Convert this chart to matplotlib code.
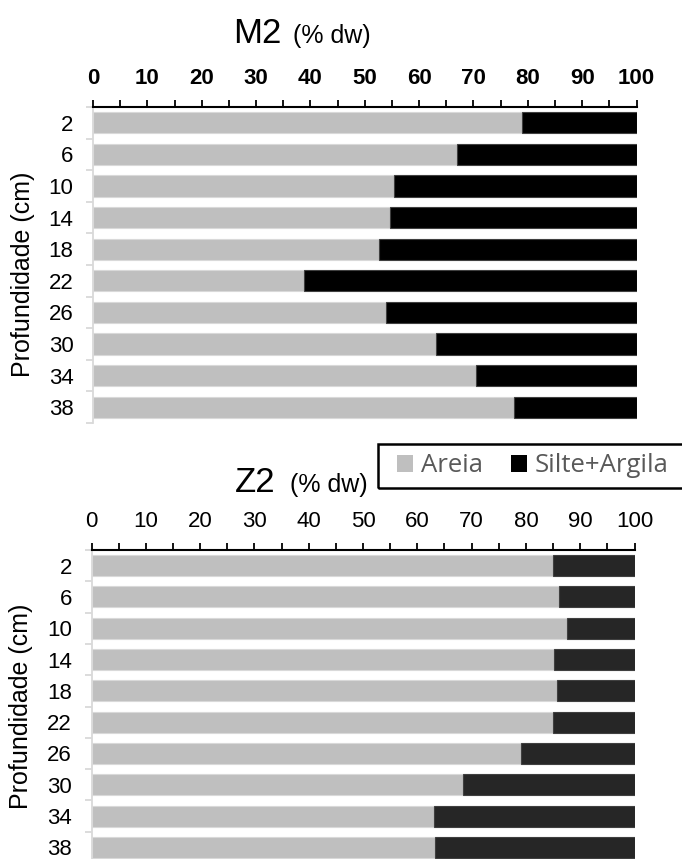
import matplotlib
matplotlib.use("Agg")
import matplotlib.pyplot as plt
from matplotlib.patches import Patch, Rectangle
import numpy as np

plt.rcParams['font.family'] = ['Liberation Sans', 'DejaVu Sans']

depths = ["2", "6", "10", "14", "18", "22", "26", "30", "34", "38"]
m2_areia = [79.0, 66.9, 55.4, 54.7, 52.6, 38.9, 54.0, 63.2, 70.4, 77.5]
z2_areia = [84.9, 86.1, 87.5, 85.1, 85.8, 84.9, 79.1, 68.4, 63.1, 63.3]
m2_silte = [100 - v for v in m2_areia]
z2_silte = [100 - v for v in z2_areia]

W, H = 682, 859
fig = plt.figure(figsize=(W / 100, H / 100), dpi=100)


def px_axes(left, top, right, bottom):
    return fig.add_axes([left / W, 1 - bottom / H, (right - left) / W, (bottom - top) / H])


def draw_panel(ax, areia, silte, dark, bold, label_y):
    y = np.arange(len(depths))
    ax.barh(y, areia, height=0.67, color="#BFBFBF", edgecolor="#D9D9D9", linewidth=0.8)
    ax.barh(y, silte, left=areia, height=0.67, color=dark, edgecolor="#404040", linewidth=0.8)
    ax.set_xlim(0, 100)
    ax.set_ylim(len(depths) - 0.5, -0.5)
    ax.xaxis.tick_top()
    ax.set_xticks(np.arange(0, 101, 10))
    ax.set_xticks(np.arange(0, 101, 5), minor=True)
    ax.tick_params(axis="x", which="both", direction="out", length=5, width=1.3,
                   color="black", pad=8, labelsize=16)
    for t in ax.get_xticklabels():
        t.set_fontweight("bold" if bold else "normal")
    ax.set_yticks(y)
    ax.set_yticklabels(depths)
    ax.set_yticks(np.arange(-0.5, len(depths), 1), minor=True)
    ax.tick_params(axis="y", which="major", length=0, pad=14, labelsize=16)
    ax.tick_params(axis="y", which="minor", length=5, width=1.3, color="#D9D9D9")
    for s in ["right", "bottom"]:
        ax.spines[s].set_visible(False)
    ax.spines["top"].set_linewidth(1.5)
    ax.spines["left"].set_color("#D9D9D9")
    ax.spines["left"].set_linewidth(1.3)
    ax.set_ylabel("Profundidade (cm)", fontsize=18)
    ax.yaxis.set_label_coords(-0.107, label_y)


ax1 = px_axes(93, 107, 636.5, 423)
draw_panel(ax1, m2_areia, m2_silte, "#000000", True, 0.47)

ax2 = px_axes(91.5, 550, 634.5, 863)
draw_panel(ax2, z2_areia, z2_silte, "#262626", False, 0.5)

fig.text(233 / W, 1 - 43 / H, "M2", fontsize=25, va="baseline", ha="left")
fig.text(293 / W, 1 - 43 / H, "(% dw)", fontsize=18, va="baseline", ha="left")
fig.text(235 / W, 1 - 492 / H, "Z2", fontsize=25, va="baseline", ha="left")
fig.text(290 / W, 1 - 492 / H, "(% dw)", fontsize=18, va="baseline", ha="left")

# legend box runs off the right edge like in the original
fig.patches.append(Rectangle((378 / W, 1 - 488 / H), (700 - 378) / W, 44 / H,
                             transform=fig.transFigure, fill=False,
                             edgecolor="black", linewidth=1.8))
handles = [Patch(facecolor="#BFBFBF", edgecolor="none", label="Areia"),
           Patch(facecolor="#000000", edgecolor="none", label="Silte+Argila")]
leg = fig.legend(handles=handles, loc="center left", bbox_to_anchor=(397 / W, 1 - 466 / H),
                 ncol=2, frameon=False, borderaxespad=0, borderpad=0,
                 handlelength=0.62, handleheight=0.62,
                 handletextpad=0.31, columnspacing=1.1,
                 prop={"family": ["Open Sans", "DejaVu Sans"], "size": 18.5})
for t in leg.get_texts():
    t.set_color("#595959")

fig.savefig("out.png", dpi=100)
